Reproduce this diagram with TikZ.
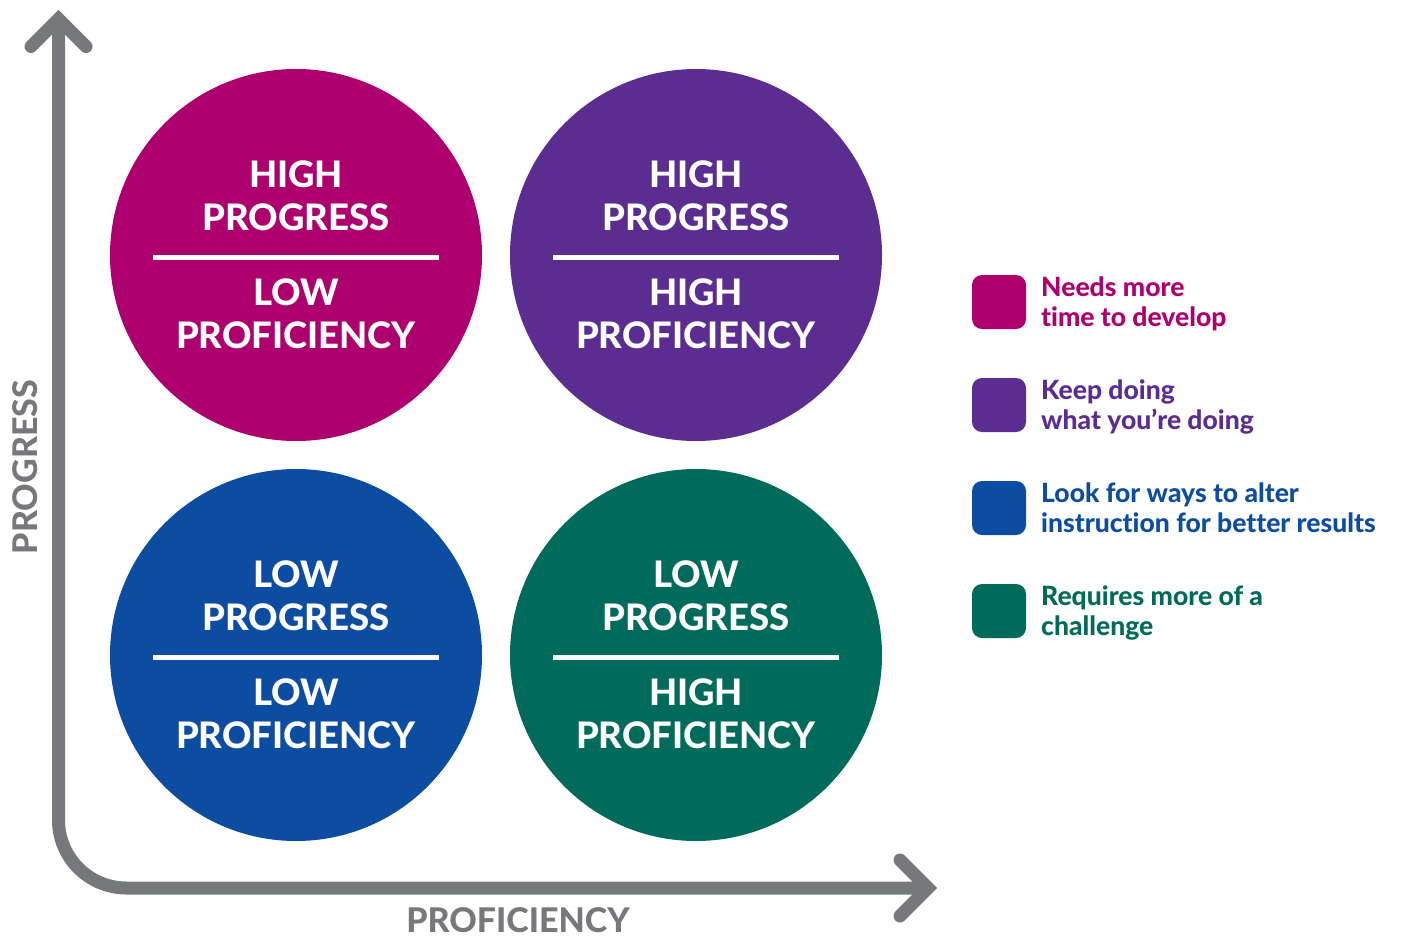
\documentclass[tikz,border=0pt]{standalone}
\usepackage{fontspec}
\setmainfont{Lato}[BoldFont={Lato Heavy},Ligatures=NoCommon]
\definecolor{cmag}{HTML}{AD006E}
\definecolor{cpur}{HTML}{5C2D91}
\definecolor{cblu}{HTML}{0D4DA1}
\definecolor{cgrn}{HTML}{006B5A}
\definecolor{cgry}{HTML}{77787B}
\begin{document}
\begin{tikzpicture}[x=1pt,y=-1pt,
  disc/.style={circle,minimum size=372pt,inner sep=0pt},
  inlbl/.style={anchor=base,text=white,font=\fontsize{36.5}{40}\selectfont\bfseries,inner sep=0pt},
  divider/.style={draw=white,line width=5pt},
  axisline/.style={draw=cgry,line width=13pt,line cap=butt},
  chevron/.style={draw=cgry,line width=13pt,line cap=round,line join=miter},
  axlbl/.style={text=cgry,font=\fontsize{34}{36}\selectfont\bfseries,inner sep=0pt},
  swatch/.style={rounded corners=10pt,minimum size=54pt,inner sep=0pt},
  legtxt/.style={anchor=base west,font=\fontsize{26.5}{28}\selectfont\bfseries,inner sep=0pt}]
\useasboundingbox (0,0) rectangle (1402,938);

% quadrant discs
\node[disc,fill=cmag] (tl) at (296,255) {};
\node[disc,fill=cpur] (tr) at (696,255) {};
\node[disc,fill=cblu] (bl) at (296,655) {};
\node[disc,fill=cgrn] (br) at (696,655) {};

% labels inside each disc
\foreach \n/\cx/\cy/\a/\b in {tl/296/0/HIGH/LOW, tr/696/0/HIGH/HIGH, bl/296/400/LOW/LOW, br/696/400/LOW/HIGH}{
  \node[inlbl] (\n-a) at (\cx,187+\cy) {\a};
  \node[inlbl] (\n-b) at (\cx,230+\cy) {PROGRESS};
  \node[inlbl] (\n-c) at (\cx,305+\cy) {\b};
  \node[inlbl] (\n-d) at (\cx,348+\cy) {PROFICIENCY};
  \draw[divider] (\cx-143,257+\cy) -- (\cx+143,257+\cy);
}

% axes
\coordinate (ytip) at (58.5,19);
\coordinate (origin) at (58.5,888);
\coordinate (xtip) at (928,888);
\coordinate (yl) at (31,46.5);
\coordinate (yr) at (86,46.5);
\coordinate (xu) at (900,860);
\coordinate (xd) at (900,916);
\draw[axisline,rounded corners=68pt] (ytip) -- (origin) -- (xtip);
\draw[chevron] (yl) -- (ytip) -- (yr);
\draw[chevron] (xu) -- (xtip) -- (xd);

\node[axlbl,rotate=90,anchor=base] (ylbl) at (37.5,467) {PROGRESS};
\node[axlbl,anchor=base] (xlbl) at (518,932) {PROFICIENCY};

% legend
\node[swatch,fill=cmag] (k1) at (999,302) {};
\node[swatch,fill=cpur] (k2) at (999,405) {};
\node[swatch,fill=cblu] (k3) at (999,508) {};
\node[swatch,fill=cgrn] (k4) at (999,611) {};

\node[legtxt,text=cmag] (k1a) at (1041,296.5) {Needs more};
\node[legtxt,text=cmag] (k1b) at (1041,326.5) {time to develop};
\node[legtxt,text=cpur] (k2a) at (1041,399.5) {Keep doing};
\node[legtxt,text=cpur] (k2b) at (1041,429.5) {what you’re doing};
\node[legtxt,text=cblu] (k3a) at (1041,502.5) {Look for ways to alter};
\node[legtxt,text=cblu] (k3b) at (1041,532.5) {instruction for better results};
\node[legtxt,text=cgrn] (k4a) at (1041,605.5) {Requires more of a};
\node[legtxt,text=cgrn] (k4b) at (1041,635.5) {challenge};
\end{tikzpicture}
\end{document}
